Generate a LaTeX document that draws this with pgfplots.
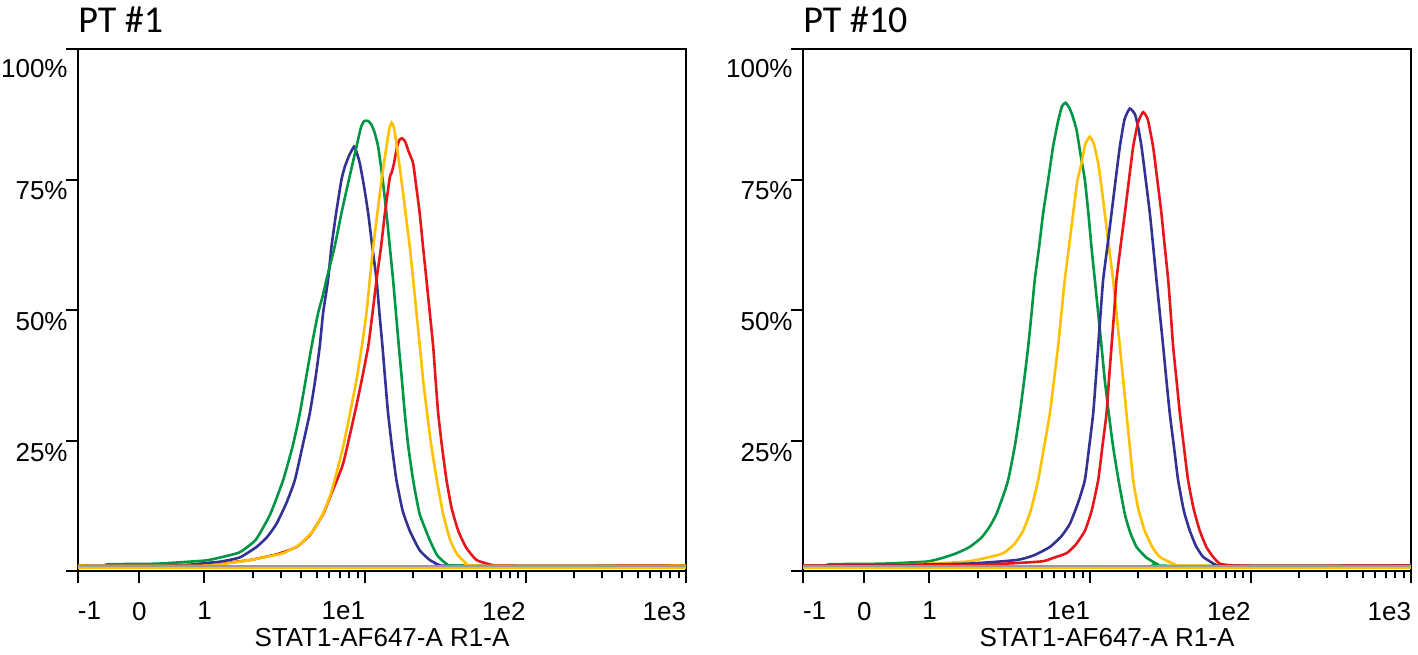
\documentclass[border=0pt]{standalone}
\usepackage{fontspec}
\setmainfont{Liberation Sans}
\newfontfamily\titlefont{Carlito}
\usepackage{pgfplots}
\pgfplotsset{compat=1.18}

\definecolor{cgreen}{RGB}{0,150,70}
\definecolor{cblue}{RGB}{50,50,150}
\definecolor{cred}{RGB}{232,22,27}
\definecolor{cyellow}{RGB}{255,192,0}

% x is in display units of the logicle scale: 1 -> 0, 1e1 -> 1, 1e2 -> 2, 1e3 -> 3
\pgfplotsset{panel/.style={
  scale only axis, width=304pt, height=261pt,
  xmin=-0.788, xmax=3.0, ymin=0, ymax=100,
  axis line style={line width=1.2pt},
  tick pos=left, tick align=outside,
  xtick={-0.788,-0.406,0,1,2,3},
  xticklabels={\rlap{-1},0,1,\llap{1e1},\llap{1e2},\llap{1e3}},
  minor xtick={0.301,0.477,0.602,0.699,0.778,0.845,0.903,0.954,
    1.301,1.477,1.602,1.699,1.778,1.845,1.903,1.954,
    2.301,2.477,2.602,2.699,2.778,2.845,2.903,2.954},
  ytick={0,25,50,75,100},
  yticklabels={,25\%,50\%,75\%,\raisebox{-4pt}[\height][\depth]{100\%}},
  major tick length=6pt, minor tick length=3.5pt,
  every tick/.style={black, line width=1pt},
  ticklabel style={font=\fontsize{13}{15}\selectfont},
  xticklabel style={anchor=north, yshift=-6pt},
  yticklabel style={anchor=north east, inner sep=0pt, yshift=-1pt, xshift=1pt},
  xlabel={STAT1-AF647-A R1-A},
  xlabel style={font=\fontsize{13}{15}\selectfont, at={(axis description cs:0.5,0)}, anchor=north, yshift=-25pt},
  every axis title shift=0pt,
  title style={font=\titlefont\fontsize{19}{23}\selectfont, at={(axis description cs:0,1)}, anchor=base west, yshift=8pt, inner sep=0pt},
  every axis plot/.append style={line width=1.3pt, no markers, smooth, tension=0.3},
}}

\begin{document}
\begin{tikzpicture}
\begin{axis}[panel, title={PT \#1}]
\addplot[cblue] coordinates {(-0.788,1.0) (-0.4,1.0) (-0.1,1.2) (0,1.5) (0.1,1.8) (0.22,2.6) (0.324,4.6) (0.39,6.5) (0.448,9.0) (0.51,13) (0.563,17.4) (0.61,23.8) (0.656,30.2) (0.69,36.6) (0.718,43.0) (0.739,49.4) (0.770,55.8) (0.791,62.1) (0.82,68.5) (0.853,74.9) (0.874,77.4) (0.90,79.5) (0.932,81.3) (0.95,80) (0.968,78.1) (0.995,73.5) (1.020,68.5) (1.046,62) (1.072,55.8) (1.09,49.4) (1.109,43.0) (1.126,36.6) (1.144,30.2) (1.168,23.8) (1.196,17.4) (1.235,11.5) (1.279,7.7) (1.34,4.0) (1.404,2.1) (1.466,1.1) (1.5,1.0) (3.0,1.0)};
\addplot[cgreen] coordinates {(-0.788,1.0) (-0.62,1.0) (-0.6,1.3) (-0.3,1.4) (0,2.0) (0.1,2.6) (0.22,3.6) (0.32,6.0) (0.41,10.9) (0.49,17.4) (0.55,24) (0.594,30.2) (0.667,43.0) (0.708,49.4) (0.735,52.5) (0.760,55.8) (0.81,62) (0.853,68.5) (0.90,75) (0.947,81.3) (0.975,85) (0.995,86.2) (1.02,86.2) (1.04,85.5) (1.06,84) (1.082,81.3) (1.11,75) (1.134,68.5) (1.155,62) (1.175,55.8) (1.193,49.4) (1.211,43.0) (1.23,36.6) (1.248,30.2) (1.27,23.8) (1.300,17.4) (1.34,11) (1.404,5.9) (1.45,3.0) (1.508,1.4) (1.6,1.0) (3.0,1.0)};
\addplot[cred] coordinates {(-0.788,1.0) (0,1.0) (0.15,1.6) (0.282,2.1) (0.45,3.2) (0.573,4.6) (0.66,7.0) (0.739,10.9) (0.80,15.5) (0.864,20.6) (0.936,30.2) (0.98,36.6) (1.020,43.0) (1.047,49.4) (1.072,55.8) (1.10,62.1) (1.124,68.5) (1.155,75.5) (1.165,76.2) (1.18,78) (1.200,81.3) (1.215,82.6) (1.231,82.9) (1.25,82.3) (1.27,80.5) (1.300,78.1) (1.32,73.5) (1.341,68.5) (1.362,62) (1.383,55.8) (1.404,49.4) (1.425,43.0) (1.44,36.6) (1.456,30.2) (1.48,23.8) (1.508,17.4) (1.54,12) (1.581,7.7) (1.63,4.5) (1.695,2.1) (1.798,1.1) (1.84,1.0) (3.0,1.0)};
\addplot[cyellow] coordinates {(-0.788,1.0) (0,1.0) (0.15,1.5) (0.282,2.1) (0.40,2.8) (0.49,3.4) (0.59,5.0) (0.677,7.7) (0.73,10.5) (0.781,14.2) (0.82,18.5) (0.864,23.8) (0.905,30) (0.947,36.6) (0.98,43) (1.009,49.4) (1.03,55.8) (1.051,62.1) (1.077,68.5) (1.103,74.9) (1.13,80.5) (1.15,84.5) (1.165,85.9) (1.18,85) (1.20,81) (1.227,74.9) (1.253,68.5) (1.279,62.1) (1.30,55.8) (1.321,49.4) (1.342,43) (1.362,36.6) (1.387,30.2) (1.414,23.8) (1.45,17) (1.487,10.9) (1.53,6) (1.570,3.4) (1.632,1.4) (1.7,1.0) (3.0,1.0)};
\addplot[gray!80, line width=0.8pt, sharp plot] coordinates {(-0.788,1.0) (3.0,1.0)};
\addplot[cyellow, sharp plot] coordinates {(-0.788,0.55) (3.0,0.55)};
\end{axis}

\begin{axis}[panel, title={PT \#10}, at={(362.5pt,0)}]
\addplot[cgreen] coordinates {(-0.788,1.0) (-0.642,1.0) (-0.62,1.3) (-0.3,1.4) (-0.019,1.8) (0.08,2.5) (0.168,3.4) (0.25,4.6) (0.324,6.4) (0.375,8.5) (0.417,10.9) (0.46,14.5) (0.490,17.4) (0.531,23.8) (0.563,30.2) (0.59,36.6) (0.615,43.0) (0.636,49.4) (0.656,55.8) (0.683,62.1) (0.708,68.5) (0.74,75) (0.770,81.3) (0.80,86) (0.825,89) (0.847,89.7) (0.87,88.8) (0.89,87.3) (0.916,84.5) (0.94,80) (0.968,74.9) (0.99,68.5) (1.009,62.1) (1.03,55.8) (1.051,49.4) (1.072,43) (1.092,36.6) (1.117,30.2) (1.144,23.8) (1.18,17) (1.217,10.9) (1.25,7.4) (1.290,4.6) (1.35,2.6) (1.414,1.4) (1.46,1.0) (3.0,1.0)};
\addplot[cyellow] coordinates {(-0.788,1.0) (-0.4,1.0) (-0.247,1.1) (0,1.4) (0.230,1.8) (0.35,2.5) (0.459,3.4) (0.53,5.2) (0.583,7.7) (0.63,11.5) (0.677,17.4) (0.714,23.8) (0.750,30.2) (0.776,36.6) (0.801,43.0) (0.822,49.4) (0.843,55.8) (0.869,62.1) (0.895,68.5) (0.92,74.5) (0.947,78.1) (0.97,81.7) (0.999,83.2) (1.025,81.7) (1.051,78.1) (1.072,73.5) (1.092,68.5) (1.118,62.1) (1.144,55.8) (1.165,49.4) (1.186,43.0) (1.207,36.6) (1.227,30.2) (1.248,23.8) (1.269,17.4) (1.30,12) (1.341,7.7) (1.39,4.5) (1.435,2.7) (1.539,1.1) (1.6,1.0) (3.0,1.0)};
\addplot[cblue] coordinates {(-0.788,1.0) (-0.33,1.1) (0.23,1.4) (0.542,2.1) (0.65,3.0) (0.750,4.6) (0.82,6.6) (0.874,9.0) (0.925,13) (0.968,17.4) (0.995,23.8) (1.020,30.2) (1.036,36.6) (1.051,43.0) (1.066,49.4) (1.082,55.8) (1.108,62.1) (1.134,68.5) (1.16,75) (1.186,81.3) (1.215,86.5) (1.248,88.6) (1.28,87.5) (1.30,85) (1.321,81.3) (1.347,75) (1.373,68.5) (1.394,62.1) (1.414,55.8) (1.435,49.4) (1.456,43.0) (1.476,36.6) (1.497,30.2) (1.523,23.8) (1.549,17.4) (1.585,11.5) (1.622,7.7) (1.66,4.8) (1.705,2.7) (1.788,1.1) (1.83,1.0) (3.0,1.0)};
\addplot[cred] coordinates {(-0.788,1.0) (0.23,1.1) (0.687,1.8) (0.77,2.5) (0.853,3.4) (0.91,5.0) (0.968,7.7) (1.01,11.5) (1.051,17.4) (1.077,23.8) (1.103,30.2) (1.118,36.6) (1.134,43.0) (1.150,49.4) (1.165,55.8) (1.19,62.1) (1.217,68.5) (1.243,75) (1.269,81.3) (1.30,86) (1.331,87.9) (1.36,86.5) (1.393,81.3) (1.419,75) (1.445,68.5) (1.466,62.1) (1.487,55.8) (1.503,49.4) (1.518,43.0) (1.539,36.6) (1.560,30.2) (1.585,23.8) (1.611,17.4) (1.645,12) (1.684,7.7) (1.725,4.6) (1.767,2.7) (1.809,1.4) (1.87,1.1) (1.9,1.0) (3.0,1.0)};
\addplot[gray!80, line width=0.8pt, sharp plot] coordinates {(-0.788,1.0) (3.0,1.0)};
\addplot[cyellow, sharp plot] coordinates {(-0.788,0.55) (3.0,0.55)};
\end{axis}
\pgfresetboundingbox
\path[use as bounding box] (-39pt,-41.5pt) rectangle (670pt,285.5pt);
\end{tikzpicture}
\end{document}
